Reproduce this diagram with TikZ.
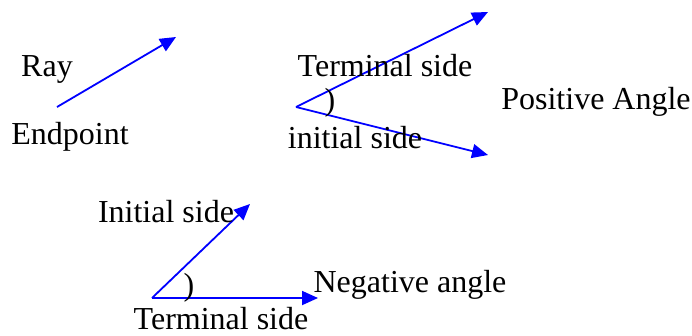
\documentclass[tikz,border=0pt]{standalone}
\usepackage{fontspec}
\setmainfont{Liberation Serif}
\usetikzlibrary{arrows.meta,positioning}
\definecolor{RayBlue}{RGB}{0,0,255}

\begin{document}
\begin{tikzpicture}[
  x=1pt, y=-1pt,
  lbl/.style={inner sep=0pt, font=\fontsize{32}{36}\selectfont, text=black},
  ray/.style={-{Triangle[length=16pt, width=14pt]}, line width=1.8pt, draw=RayBlue}
]
\useasboundingbox (0,0) rectangle (692,335);
% ray
\coordinate (rayend) at (57,107);
\coordinate (raytip) at (176,37);
\draw[ray] (rayend)--(raytip);
\node[lbl] (raylbl) at (47,69) {Ray};
\node[lbl] (endlbl) at (70,137) {Endpoint};
% positive angle
\coordinate (pv) at (296,107);
\coordinate (pterm) at (488,12);
\coordinate (pinit) at (488,155);
\draw[ray] (pv)--(pterm);
\draw[ray] (pv)--(pinit);
\node[lbl] (ptermlbl) at (385,66) {Terminal side};
\node[lbl] (parc) at (330,103) {)};
\node[lbl] (ptitle) at (596,102) {Positive Angle};
\node[lbl] (pinitlbl) at (355,138) {initial side};
% negative angle
\coordinate (nv) at (152,298);
\coordinate (ninit) at (250,204);
\coordinate (nterm) at (318,298);
\draw[ray] (nv)--(ninit);
\draw[ray] (nv)--(nterm);
\node[lbl] (ninitlbl) at (166,212) {Initial side};
\node[lbl] (narc) at (189,288) {)};
\node[lbl] (ntitle) at (410,285) {Negative angle};
\node[lbl] (ntermlbl) at (221,319) {Terminal side};
\end{tikzpicture}
\end{document}
